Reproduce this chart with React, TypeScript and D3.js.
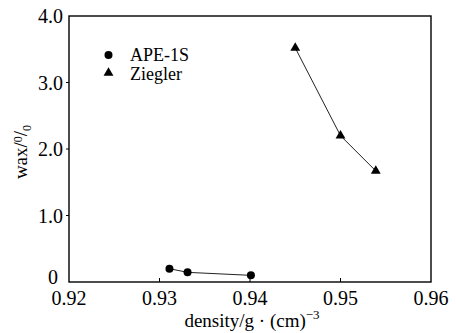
import React from "react";
import * as d3 from "d3";

const apeX = [0.9311, 0.9331, 0.9401];
const apeY = [0.2, 0.145, 0.1];
const zieX = [0.945, 0.95, 0.9539];
const zieY = [3.52, 2.2, 1.67];
const xTicks = [0.92, 0.93, 0.94, 0.95, 0.96];
const yTicks = [0, 1, 2, 3, 4];
const yTickLabels = ["0", "1.0", "2.0", "3.0", "4.0"];
const seriesNames = ["APE-1S", "Ziegler"];

const W = 456, H = 333;
const L = 69, R = 431, T = 16, B = 282;
const FONT = "'Times New Roman', Times, 'Liberation Serif', 'Nimbus Roman', 'Noto Serif', 'DejaVu Serif', serif";

export default function App() {
  const x = d3.scaleLinear().domain([0.92, 0.96]).range([L, R]);
  const y = d3.scaleLinear().domain([0, 4]).range([B, T]);
  const line = d3.line<[number, number]>().x(d => x(d[0])).y(d => y(d[1]));
  const ape: [number, number][] = apeX.map((v, i) => [v, apeY[i]]);
  const zie: [number, number][] = zieX.map((v, i) => [v, zieY[i]]);
  const tri = d3.symbol().type(d3.symbolTriangle).size(42)() as string;
  const fs = { fontFamily: FONT };
  return (
    <svg width={W} height={H} style={{ position: "absolute", left: 0, top: 0, background: "#fff", fontFamily: FONT }}>
      <rect x={L} y={T} width={R - L} height={B - T} fill="none" stroke="#000" strokeWidth={1.4} />
      {xTicks.slice(1, -1).map(t => (
        <line key={"xt" + t} x1={x(t)} x2={x(t)} y1={B} y2={B - 4} stroke="#000" strokeWidth={1} />
      ))}
      {yTicks.slice(1, -1).map(t => (
        <line key={"yt" + t} x1={L} x2={L - 3} y1={y(t)} y2={y(t)} stroke="#000" strokeWidth={1} />
      ))}
      {xTicks.map(t => (
        <text key={"xl" + t} x={x(t)} y={305} textAnchor="middle" fontSize={20} style={fs}>{t.toFixed(2)}</text>
      ))}
      {yTicks.map((t, i) => (
        <text key={"yl" + t} x={t === 0 ? 58 : 63} y={y(t) + (t === 0 ? 2 : 7)} textAnchor="end" fontSize={20} style={fs}>{yTickLabels[i]}</text>
      ))}
      <text x={252} y={327} textAnchor="middle" fontSize={19} style={fs}>
        density/g · (cm)<tspan dy={-8} fontSize={13}>−3</tspan>
      </text>
      <text transform={`translate(27,152) rotate(-90)`} textAnchor="middle" fontSize={19} style={fs}>
        wax/<tspan dy={-5} fontSize={12}>0</tspan><tspan dy={5}>/</tspan><tspan dy={4} fontSize={12}>0</tspan>
      </text>
      <path d={line(ape) as string} fill="none" stroke="#222" strokeWidth={1} />
      <path d={line(zie) as string} fill="none" stroke="#222" strokeWidth={1} />
      {ape.map((d, i) => (
        <circle key={"a" + i} cx={x(d[0])} cy={y(d[1])} r={4} fill="#000" />
      ))}
      {zie.map((d, i) => (
        <path key={"z" + i} d={tri} transform={`translate(${x(d[0])},${y(d[1])})`} fill="#000" />
      ))}
      <circle cx={108.5} cy={55} r={4} fill="#000" />
      <path d={tri} transform={`translate(108.5,73)`} fill="#000" />
      <text x={130} y={61} fontSize={18} style={fs}>{seriesNames[0]}</text>
      <text x={130} y={80} fontSize={18} style={fs}>{seriesNames[1]}</text>
    </svg>
  );
}
